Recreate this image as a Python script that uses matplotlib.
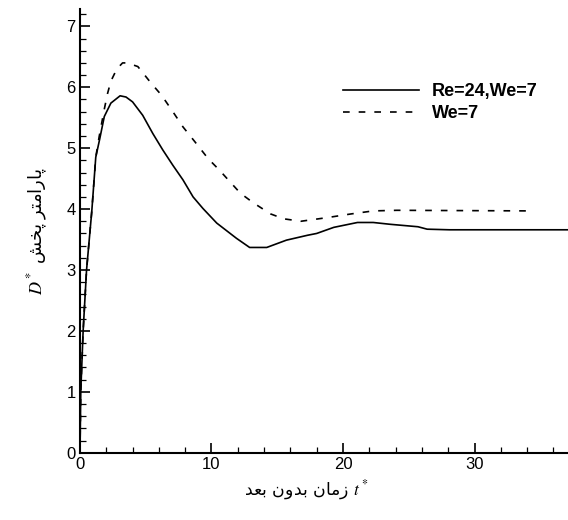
import matplotlib
matplotlib.use("Agg")
import matplotlib.pyplot as plt
from matplotlib.ticker import MultipleLocator

plt.rcParams['mathtext.fontset'] = 'stix'
plt.rcParams['font.family'] = ['Liberation Sans', 'DejaVu Sans']

# Re=24, We=7 (solid)
t_re = [0, 0.03, 0.06, 0.24, 0.5, 0.9, 1.2, 1.5, 1.85, 2.35, 3.05, 3.5, 4.0, 4.77, 5.54,
        6.3, 7.06, 7.83, 8.6, 9.35, 10.4, 11.9, 12.9, 14.2, 15.7, 17.3, 18.0, 19.3,
        21.1, 22.3, 23.6, 25.7, 26.4, 28.1, 37.1]
d_re = [0, 0.5, 1.0, 2.0, 3.0, 3.97, 4.85, 5.15, 5.52, 5.74, 5.86, 5.84, 5.76, 5.54, 5.24,
        4.97, 4.72, 4.48, 4.2, 4.01, 3.77, 3.52, 3.37, 3.37, 3.49, 3.57, 3.60, 3.70,
        3.78, 3.78, 3.75, 3.71, 3.67, 3.66, 3.66]

# We=7 (dashed)
t_we = [0, 0.03, 0.06, 0.24, 0.5, 0.9, 1.2, 1.46, 1.84, 2.1, 2.35, 2.8, 3.24, 3.6, 4.4, 5.4,
        6.2, 7.06, 7.83, 8.72, 9.74, 10.6, 12.2, 13.2, 14.5, 15.5, 16.8, 18.8, 20.6,
        22.3, 24.1, 34.3]
d_we = [0, 0.5, 1.0, 2.0, 3.0, 3.97, 4.85, 5.19, 5.63, 5.9, 6.1, 6.3, 6.40, 6.40, 6.34, 6.07,
        5.87, 5.6, 5.35, 5.11, 4.83, 4.64, 4.26, 4.10, 3.92, 3.84, 3.80, 3.86, 3.92,
        3.97, 3.98, 3.97]

labels = ["Re=24,We=7", "We=7"]

# Persian labels written in visual order with Arabic presentation forms
ylab = "$D^*$ \uFEB6\uFEA8\uFB58 \uFEAE\uFE98\uFEE3\uFE8D\uFEAD\uFE8E\uFB58"
xlab = ("\uFEAA\uFECC\uFE91 \uFEE5\uFEED\uFEAA\uFE91 "
        "\uFEE5\uFE8E\uFEE3\uFEAF $t^*$")

fig = plt.figure(figsize=(5.68, 5.2), dpi=100)
ax = fig.add_axes([0.1408, 0.1294, 0.859, 0.8527])

ax.plot(t_re, d_re, color='black', lw=1.2, label=labels[0])
ax.plot(t_we, d_we, color='black', lw=1.2, dashes=(4, 5.4), label=labels[1])

ax.set_xlim(0, 37.1)
ax.set_ylim(0, 7.28)
ax.xaxis.set_major_locator(MultipleLocator(10))
ax.xaxis.set_minor_locator(MultipleLocator(2))
ax.yaxis.set_major_locator(MultipleLocator(1))
ax.yaxis.set_minor_locator(MultipleLocator(0.2))

for s in ['top', 'right']:
    ax.spines[s].set_visible(False)
for s in ['left', 'bottom']:
    ax.spines[s].set_linewidth(1.5)
ax.tick_params(which='major', direction='in', length=7, width=1.2, labelsize=12, pad=3)
ax.tick_params(which='minor', direction='in', length=4.3, width=0.9)

ax.set_xlabel(xlab, family=['DejaVu Sans'], fontsize=12.5)
ax.xaxis.set_label_coords(0.465, -0.058)
ax.set_ylabel(ylab, family=['DejaVu Sans'], fontsize=13, labelpad=12)

leg = ax.legend(loc='upper left', bbox_to_anchor=(0.505, 0.87), frameon=False,
                handlelength=4.25, handletextpad=0.7, labelspacing=0.28,
                prop={'weight': 'bold', 'size': 13})

fig.savefig("out.png", dpi=100)
